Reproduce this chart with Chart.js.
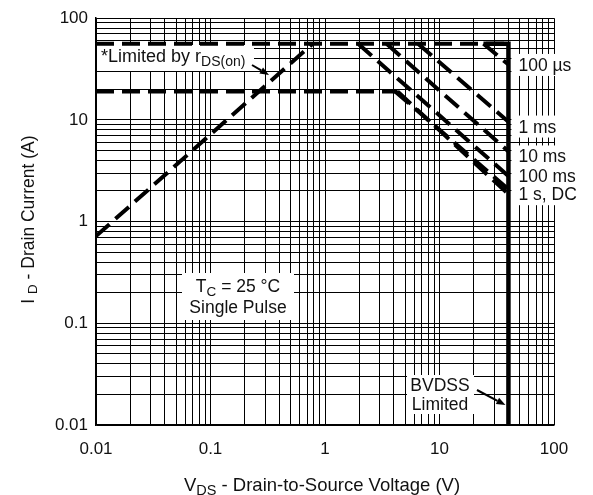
<!DOCTYPE html>
<html>
<head>
<meta charset="utf-8">
<script src="https://cdn.jsdelivr.net/npm/chart.js@4.4.1/dist/chart.umd.min.js"></script>
<style>
  html, body { margin: 0; padding: 0; background: #fff; }
  #wrap { width: 593px; height: 495px; position: relative; }
</style>
</head>
<body>
<div id="wrap"><canvas id="soa" width="593" height="495"></canvas></div>
<script>
// Safe operating area, drain current vs drain-source voltage (log-log)
const decadeTicks = [0.01, 0.1, 1, 10, 100];
const xTickLabels = ['0.01', '0.1', '1', '10', '100'];
const yTickLabels = ['0.01', '0.1', '1', '10', '100'];

// r_DS(on) limit line (V, A)
const rdsLimitV = [0.01, 0.78];
const rdsLimitI = [0.72, 56];
// pulsed current limit
const idmLimitV = [0.01, 40];
const idmLimitI = [56, 56];
// continuous current limit
const idLimitV = [0.01, 4.3];
const idLimitI = [19, 19];
// pulse-width boundaries
const pulse100usV = [24.2, 40];
const pulse100usI = [56, 35];
const pulse1msV = [6.5, 40];
const pulse1msI = [56, 9.6];
const pulse10msV = [3.45, 40];
const pulse10msI = [56, 4.9];
const pulse100msV = [1.95, 40];
const pulse100msI = [56, 2.8];
const pulse1sV = [4.1, 40];
const pulse1sI = [19, 2.08];
const pulseDCV = [4.3, 40];
const pulseDCI = [19, 1.86];
// breakdown voltage limit
const bvdssV = [24.2, 40, 40];
const bvdssI = [56, 56, 0.01];

// curve names printed at the right-hand end, with the current they sit at
const curveNames = ['100 µs', '1 ms', '10 ms', '100 ms', '1 s, DC'];
const curveNameI = [34.7, 8.6, 4.37, 2.79, 1.86];

const FONT = '"Liberation Sans", Arial, Helvetica, sans-serif';

// every 1..9 × 10^n grid value across the axis range
const gridValues = [];
for (let e = -2; e <= 2; e++) {
  for (let m = 1; m <= 9; m++) {
    if (e === 2 && m > 1) break;
    gridValues.push(Number((m * Math.pow(10, e)).toPrecision(3)));
  }
}

const toPts = (vs, is) => vs.map((v, k) => ({ x: v, y: is[k] }));
const dashed = {
  borderColor: '#000', borderWidth: 4, borderDash: [18, 8], borderCapStyle: 'butt',
  pointRadius: 0, showLine: true, fill: false, tension: 0
};

function tickLabel(labels) {
  return function (value) {
    const k = decadeTicks.findIndex(d => Math.abs(d - value) < d * 1e-6);
    return k >= 0 ? labels[k] : '';
  };
}

// draws a row of text runs (main text and subscripts) starting at x
function runsWidth(ctx, runs) {
  let w = 0;
  for (const r of runs) { ctx.font = r.size + 'px ' + FONT; w += ctx.measureText(r.t).width; }
  return w;
}
function drawRuns(ctx, x, y, runs, align) {
  let cx = x;
  if (align === 'center') cx = x - runsWidth(ctx, runs) / 2;
  ctx.textBaseline = 'alphabetic';
  ctx.textAlign = 'left';
  for (const r of runs) {
    ctx.font = r.size + 'px ' + FONT;
    ctx.fillText(r.t, cx, y + (r.dy || 0));
    cx += ctx.measureText(r.t).width;
  }
}
function arrow(ctx, x0, y0, x1, y1) {
  const ang = Math.atan2(y1 - y0, x1 - x0);
  const hl = 9, hw = 3.5;
  const bx = x1 - hl * Math.cos(ang), by = y1 - hl * Math.sin(ang);
  ctx.strokeStyle = '#000';
  ctx.lineWidth = 2;
  ctx.beginPath(); ctx.moveTo(x0, y0); ctx.lineTo(bx, by); ctx.stroke();
  ctx.fillStyle = '#000';
  ctx.beginPath();
  ctx.moveTo(x1, y1);
  ctx.lineTo(bx + hw * Math.sin(ang), by - hw * Math.cos(ang));
  ctx.lineTo(bx - hw * Math.sin(ang), by + hw * Math.cos(ang));
  ctx.closePath(); ctx.fill();
}

const notes = {
  id: 'notes',
  beforeDatasetsDraw(chart) {
    const { ctx, scales: { x, y } } = chart;
    ctx.save();
    const xb = x.getPixelForValue(40);

    // r_DS(on) note
    ctx.fillStyle = '#fff';
    ctx.fillRect(97, 45, 157, 26);
    ctx.fillStyle = '#111';
    drawRuns(ctx, 101, 62, [
      { t: '*Limited by r', size: 18 },
      { t: 'DS(on)', size: 14, dy: 4 }
    ], 'left');

    // test conditions
    ctx.fillStyle = '#fff';
    ctx.fillRect(182, 273, 112, 47);
    ctx.fillStyle = '#111';
    drawRuns(ctx, 238, 292, [
      { t: 'T', size: 17.5 }, { t: 'C', size: 13.5, dy: 4 }, { t: ' = 25 °C', size: 17.5 }
    ], 'center');
    drawRuns(ctx, 238, 313, [{ t: 'Single Pulse', size: 17.5 }], 'center');

    // breakdown note
    ctx.fillStyle = '#fff';
    ctx.fillRect(407, 375, 67, 39);
    ctx.fillStyle = '#111';
    drawRuns(ctx, 440, 391, [{ t: 'BVDSS', size: 17.5 }], 'center');
    drawRuns(ctx, 440, 410, [{ t: 'Limited', size: 17.5 }], 'center');

    // curve names
    curveNames.forEach((name, k) => {
      const yc = y.getPixelForValue(curveNameI[k]);
      ctx.font = '17.5px ' + FONT;
      const w = ctx.measureText(name).width;
      ctx.fillStyle = '#fff';
      ctx.fillRect(xb + 3, yc - 11, w + 12, 22);
      ctx.fillStyle = '#111';
      drawRuns(ctx, xb + 10, yc + 6, [{ t: name, size: 17.5 }], 'left');
    });
    ctx.restore();
  },
  afterDatasetsDraw(chart) {
    const { ctx, scales: { x, y } } = chart;
    ctx.save();
    arrow(ctx, 252, 65, 269, 75);
    arrow(ctx, 477, 390, x.getPixelForValue(40) - 3, y.getPixelForValue(0.0157));
    ctx.restore();
  },
  afterDraw(chart) {
    const { ctx, chartArea: a } = chart;
    ctx.save();
    ctx.fillStyle = '#111';
    // x axis title
    drawRuns(ctx, 322, 491, [
      { t: 'V', size: 18.5 }, { t: 'DS', size: 14.5, dy: 4 },
      { t: ' - Drain-to-Source Voltage (V)', size: 18.5 }
    ], 'center');
    // y axis title
    ctx.translate(34, (a.top + a.bottom) / 2 - 2);
    ctx.rotate(-Math.PI / 2);
    drawRuns(ctx, 0, 0, [
      { t: 'I ', size: 17.5 }, { t: 'D', size: 13.5, dy: 3 },
      { t: ' - Drain Current (A)', size: 17.5 }
    ], 'center');
    ctx.restore();
  }
};

const gridOpts = { color: '#000', lineWidth: 1, drawTicks: false };
const borderOpts = { color: '#000', width: 1.5 };

new Chart(document.getElementById('soa'), {
  type: 'scatter',
  data: {
    datasets: [
      { ...dashed, data: toPts(idmLimitV, idmLimitI) },
      { ...dashed, data: toPts(idLimitV, idLimitI) },
      { ...dashed, data: toPts(rdsLimitV, rdsLimitI) },
      { ...dashed, data: toPts(pulse100usV, pulse100usI) },
      { ...dashed, data: toPts(pulse1msV, pulse1msI) },
      { ...dashed, data: toPts(pulse10msV, pulse10msI) },
      { ...dashed, data: toPts(pulse100msV, pulse100msI) },
      { ...dashed, data: toPts(pulse1sV, pulse1sI) },
      { ...dashed, data: toPts(pulseDCV, pulseDCI) },
      { ...dashed, borderDash: [], borderWidth: 4.5, borderJoinStyle: 'miter', data: toPts(bvdssV, bvdssI) }
    ]
  },
  options: {
    responsive: false,
    animation: false,
    devicePixelRatio: 1,
    layout: { padding: { top: 16, right: 39, left: 0, bottom: 0 } },
    plugins: { legend: { display: false }, tooltip: { enabled: false } },
    scales: {
      x: {
        type: 'logarithmic', min: 0.01, max: 100,
        afterBuildTicks: s => { s.ticks = gridValues.map(v => ({ value: v })); },
        afterFit: s => { s.height = 70; },
        grid: gridOpts, border: borderOpts,
        ticks: {
          autoSkip: false, maxRotation: 0, padding: 14, color: '#111',
          font: { family: FONT, size: 17 },
          callback: tickLabel(xTickLabels)
        }
      },
      y: {
        type: 'logarithmic', min: 0.01, max: 100,
        afterBuildTicks: s => { s.ticks = gridValues.map(v => ({ value: v })); },
        afterFit: s => { s.width = 96; },
        grid: gridOpts, border: borderOpts,
        ticks: {
          autoSkip: false, padding: 8, color: '#111',
          font: { family: FONT, size: 17 },
          callback: tickLabel(yTickLabels)
        }
      }
    }
  },
  plugins: [notes]
});
</script>
</body>
</html>
